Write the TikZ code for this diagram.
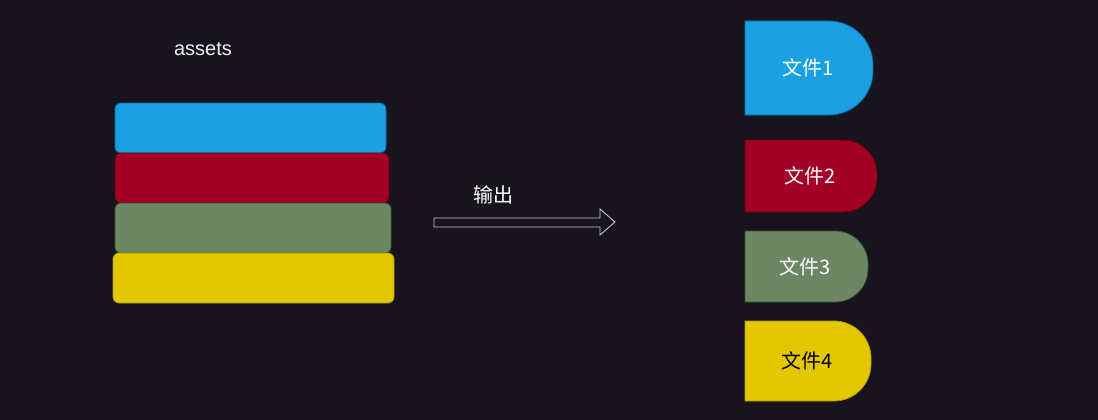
\documentclass[tikz,border=0pt]{standalone}
\usepackage{fontspec}
\setmainfont{Liberation Sans}
\newfontfamily\cjk{Noto Sans CJK SC}
\usetikzlibrary{positioning}
\definecolor{bg}{HTML}{17141D}
\definecolor{cblue}{HTML}{1BA1E2}
\definecolor{dblue}{HTML}{006EAF}
\definecolor{cred}{HTML}{A20025}
\definecolor{dred}{HTML}{6F0000}
\definecolor{cgreen}{HTML}{6D8764}
\definecolor{dgreen}{HTML}{3A5431}
\definecolor{cyellow}{HTML}{E3C800}
\definecolor{dyellow}{HTML}{B09500}
\definecolor{arrowgray}{HTML}{C8C8C8}

\tikzset{
  bar/.style={draw, line width=0.8pt, rounded corners=6pt, inner sep=0pt,
    minimum height=50pt},
  txt/.style={font=\fontsize{20}{24}\selectfont, inner sep=0pt}
}

\begin{document}
\begin{tikzpicture}[x=1pt, y=-1pt]

%---------------------------------------
% Background
%---------------------------------------
\fill[bg] (0,0) rectangle (1098,420);
\useasboundingbox (0,0) rectangle (1098,420);

%---------------------------------------
% Left: assets stack
%---------------------------------------
\node[txt, text=white!94!black] (assets) at (203,49) {assets};

\node[bar, fill=cblue, draw=dblue, minimum width=271pt] (barA) at (250.5,128) {};
\node[bar, fill=cred, draw=dred, minimum width=274pt] (barB) at (252,178) {};
\node[bar, fill=cgreen, draw=dgreen, minimum width=276pt] (barC) at (253,228) {};
\node[bar, fill=cyellow, draw=dyellow, minimum width=281pt] (barD) at (253.5,278) {};

%---------------------------------------
% Middle: output arrow
%---------------------------------------
\node[txt, text=white] (out) at (493,195) {\cjk 输出};

\draw[arrowgray, line width=0.9pt]
  (434,218) -- (600,218) -- (600,209) -- (615,222)
  -- (600,235) -- (600,227) -- (434,227) -- cycle;

%---------------------------------------
% Right: output files
%---------------------------------------
% top / bottom / right / radius / fill / stroke / text / label x
\foreach \t/\b/\r/\rad/\fc/\dc/\tc/\lx [count=\i] in
  {21/115/873/44/cblue/dblue/white/808,
   140/212/877/34/cred/dred/white/810,
   231/302/868/33/cgreen/dgreen/white/805,
   321/401/871/37/cyellow/dyellow/black/807}
{
  \draw[fill=\fc, draw=\dc, line width=0.8pt]
    (745,\t) [rounded corners=\rad pt] -- (\r,\t) -- (\r,\b)
    [sharp corners] -- (745,\b) -- cycle;
  \node[txt, text=\tc] (file\i) at (\lx,{(\t+\b)/2}) {\cjk 文件\i};
}

\end{tikzpicture}
\end{document}
